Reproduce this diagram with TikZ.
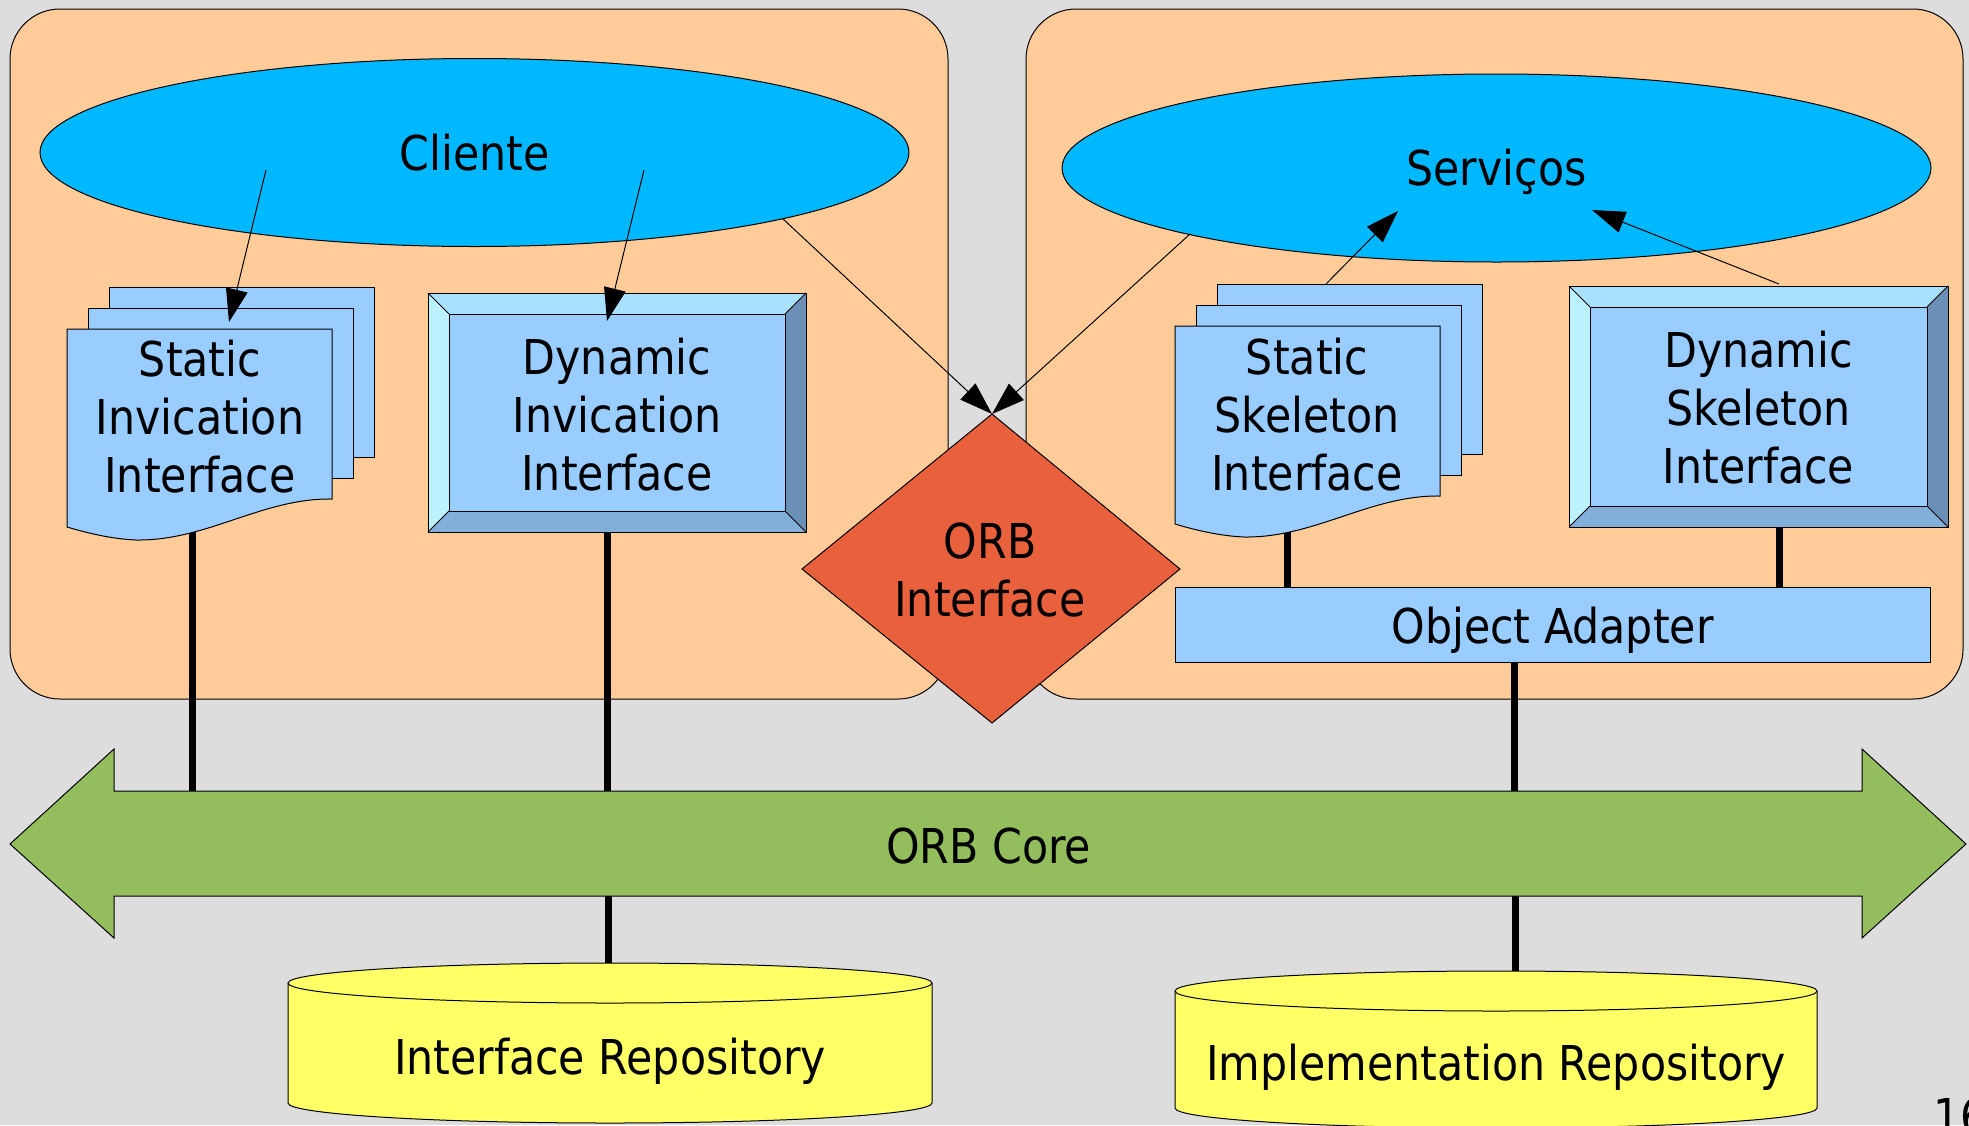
\documentclass[tikz,border=0pt]{standalone}
\usepackage{fontspec}
\setmainfont{DejaVu Sans}[FakeStretch=0.89]
\usetikzlibrary{arrows.meta,shapes.geometric}
\definecolor{bgc}{HTML}{DDDDDD}
\definecolor{orangep}{HTML}{FFCC99}
\definecolor{ellc}{HTML}{00B8FF}
\definecolor{lightb}{HTML}{99CCFF}
\definecolor{bvtop}{HTML}{A8E0FF}
\definecolor{bvleft}{HTML}{BBF2FF}
\definecolor{bvbot}{HTML}{82AFDA}
\definecolor{bvright}{HTML}{6B90B7}
\definecolor{diac}{HTML}{E8603C}
\definecolor{greenc}{HTML}{94BD5E}
\definecolor{yellowc}{HTML}{FFFF66}
\newcommand\bevelbox[5]{%
  \fill[bvtop] (#1,#2) -- (#3,#2) -- (#3-#5,#2+#5) -- (#1+#5,#2+#5) -- cycle;
  \fill[bvleft] (#1,#2) -- (#1+#5,#2+#5) -- (#1+#5,#4-#5) -- (#1,#4) -- cycle;
  \fill[bvbot] (#1,#4) -- (#1+#5,#4-#5) -- (#3-#5,#4-#5) -- (#3,#4) -- cycle;
  \fill[bvright] (#3,#2) -- (#3,#4) -- (#3-#5,#4-#5) -- (#3-#5,#2+#5) -- cycle;
  \draw[outl, fill=lightb] (#1+#5,#2+#5) rectangle (#3-#5,#4-#5);
  \draw[outl] (#1,#2) -- (#1+#5,#2+#5) (#3,#2) -- (#3-#5,#2+#5)
              (#1,#4) -- (#1+#5,#4-#5) (#3,#4) -- (#3-#5,#4-#5);
  \draw[outl] (#1,#2) rectangle (#3,#4);
}
\newcommand\docstack[2]{%
  \draw[page] (#1+42,#2-42) rectangle (#1+307,#2+128);
  \draw[page] (#1+21,#2-21) rectangle (#1+286,#2+149);
  \draw[page] (#1,#2) -- (#1+265,#2) -- (#1+265,#2+170)
     .. controls (#1+195,#2+169) and (#1+140,#2+212) .. (#1+69,#2+211)
     .. controls (#1+45,#2+210) and (#1+20,#2+204) .. (#1,#2+198) -- cycle;
}
\begin{document}
\begin{tikzpicture}[x=1pt,y=-1pt,
  txt/.style={font=\fontsize{48}{58}\selectfont, align=center, inner sep=0pt},
  one/.style={txt, text height=35pt, text depth=0pt},
  outl/.style={draw=black, line width=1pt},
  conn/.style={line width=7pt, draw=black},
  arr/.style={line width=1pt, draw=black, -{Triangle[length=33pt,width=22pt]}},
  panel/.style={fill=orangep, draw=black, line width=1pt, rounded corners=50pt},
  page/.style={fill=lightb, draw=black, line width=1pt},
  elli/.style={ellipse, fill=ellc, draw=black, line width=1pt, inner sep=0pt,
     minimum width=869pt, minimum height=188pt, txt, text height=35pt, text depth=0pt},
  cyl/.style={fill=yellowc, draw=black, line width=1pt}]
\useasboundingbox (0,0) rectangle (1969,1125);
\clip (0,0) rectangle (1969,1125);
\fill[bgc] (0,0) rectangle (1969,1125);

% panels
\draw[panel] (10,9) rectangle (948,699);
\draw[panel] (1026,9) rectangle (1963,699);

% ellipses
\node[elli] (cli) at (474.5,152.5) {Cliente};
\node[elli] (srv) at (1496.5,168) {Serviços};

% thick connectors (drawn below boxes)
\coordinate (sii-b) at (192,530);
\coordinate (core-a) at (192,792);
\coordinate (dii-b) at (607,530);
\coordinate (core-b) at (607,792);
\coordinate (ssi-b) at (1287,530);
\coordinate (oa-a) at (1287,588);
\coordinate (dsi-b) at (1779,526);
\coordinate (oa-b) at (1779,588);
\coordinate (oa-c) at (1514,661);
\coordinate (core-c) at (1514,792);
\coordinate (core-d) at (608,895);
\coordinate (ir-t) at (608,964);
\coordinate (core-e) at (1515,895);
\coordinate (imr-t) at (1515,972);
\draw[conn] (sii-b) -- (core-a);
\draw[conn] (dii-b) -- (core-b);
\draw[conn] (ssi-b) -- (oa-a);
\draw[conn] (dsi-b) -- (oa-b);
\draw[conn] (oa-c) -- (core-c);
\draw[conn] (core-d) -- (ir-t);
\draw[conn] (core-e) -- (imr-t);

% static invocation interface
\docstack{67}{329}
\node[txt] (sii) at (200,417) {Static\\Invication\\Interface};

% dynamic invocation interface
\bevelbox{428}{293}{806}{532}{21}
\node[txt] (dii) at (617,415) {Dynamic\\Invication\\Interface};

% static skeleton
\docstack{1175}{326}
\node[txt] (ssi) at (1307,415) {Static\\Skeleton\\Interface};

% dynamic skeleton
\bevelbox{1569}{286}{1948}{527}{21}
\node[txt] (dsi) at (1758.5,408) {Dynamic\\Skeleton\\Interface};

% object adapter
\draw[page] (1175,587) rectangle (1930,662);
\node[one] (oa) at (1552.5,626) {Object Adapter};

% ORB interface diamond
\coordinate (orb-t) at (992,414);
\draw[outl, fill=diac] (orb-t) -- (1180,569) -- (992,723) -- (802,569) -- cycle;
\node[txt] (orb) at (990,570.5) {ORB\\Interface};

% thin arrows
\coordinate (a1s) at (266,170);
\coordinate (a1e) at (229,322);
\coordinate (a2s) at (644,170);
\coordinate (a2e) at (607,321);
\coordinate (a3s) at (782,218);
\coordinate (a4s) at (1190,234);
\coordinate (a5s) at (1326,284);
\coordinate (a5e) at (1398,211);
\coordinate (a6s) at (1779,284);
\coordinate (a6e) at (1592,210);
\draw[arr] (a1s) -- (a1e);
\draw[arr] (a2s) -- (a2e);
\draw[arr] (a3s) -- (orb-t);
\draw[arr] (a4s) -- (orb-t);
\draw[arr] (a5s) -- (a5e);
\draw[arr] (a6s) -- (a6e);

% ORB core double arrow
\draw[outl, fill=greenc] (10,844) -- (114,749) -- (114,791) -- (1862,791) -- (1862,749)
  -- (1966,844) -- (1862,938) -- (1862,896) -- (114,896) -- (114,938) -- cycle;
\node[one] (core) at (988.7,845.5) {ORB Core};

% repositories
\draw[cyl] (288,983) -- (288,1103) arc[start angle=180, end angle=360, x radius=322pt, y radius=20pt]
  -- (932,983) arc[start angle=0, end angle=180, x radius=322pt, y radius=20pt] -- cycle;
\draw[outl] (288,983) arc[start angle=180, end angle=360, x radius=322pt, y radius=20pt];
\node[one] (ir) at (610,1057) {Interface Repository};

\draw[cyl] (1175,991) -- (1175,1108) arc[start angle=180, end angle=360, x radius=321pt, y radius=20pt]
  -- (1817,991) arc[start angle=0, end angle=180, x radius=321pt, y radius=20pt] -- cycle;
\draw[outl] (1175,991) arc[start angle=180, end angle=360, x radius=321pt, y radius=20pt];
\node[one] (imr) at (1496,1063) {Implementation Repository};

% page number (cut off at the edge, as in the reference)
\node[txt, anchor=base west] (pg) at (1933,1133) {16};
\end{tikzpicture}
\end{document}
